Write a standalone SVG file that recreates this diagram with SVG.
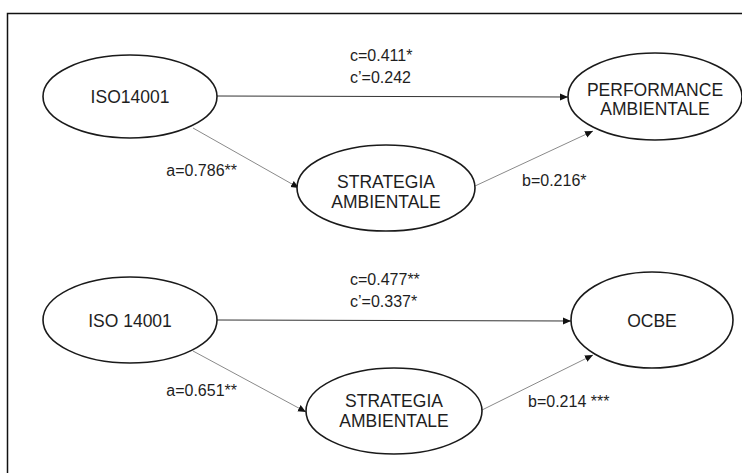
<svg xmlns="http://www.w3.org/2000/svg" width="742" height="473" viewBox="0 0 742 473">
  <style>
    .node ellipse { fill: #ffffff; stroke: #1a1a1a; stroke-width: 1.6; }
    .node text { font-family: "Liberation Sans", Arial, sans-serif; font-size: 17.5px; fill: #1e1e1e; text-anchor: middle; }
    .lbl { font-family: "Liberation Sans", Arial, sans-serif; font-size: 16px; fill: #1e1e1e; }
    .edge { fill: none; stroke-width: 1; }
    .h { stroke: #333333; }
    .d { stroke: #8a8a8a; }
  </style>
  <defs>
    <marker id="arrow" viewBox="0 0 8 8" refX="8" refY="4" markerWidth="8" markerHeight="8" markerUnits="userSpaceOnUse" orient="auto">
      <path d="M0,0.5 L8,4 L0,7.5 z" fill="#111"/>
    </marker>
  </defs>

  <rect width="742" height="473" fill="#ffffff"/>
  <!-- outer frame, open to the right and bottom -->
  <rect x="7.5" y="13.5" width="800" height="520" fill="none" stroke="#111" stroke-width="1.5"/>

  <g id="connectors">
    <!-- upper model -->
    <line class="edge h" x1="217" y1="96" x2="568" y2="97" marker-end="url(#arrow)"/>
    <line class="edge d" x1="193" y1="128" x2="299" y2="188" marker-end="url(#arrow)"/>
    <line class="edge d" x1="475" y1="186" x2="593" y2="131" marker-end="url(#arrow)"/>
    <!-- lower model -->
    <line class="edge h" x1="217" y1="320" x2="571" y2="321" marker-end="url(#arrow)"/>
    <line class="edge d" x1="193" y1="351" x2="306" y2="412" marker-end="url(#arrow)"/>
    <line class="edge d" x1="482" y1="410" x2="593" y2="355" marker-end="url(#arrow)"/>
  </g>

  <g id="labels">
    <text class="lbl" x="350" y="61">c=0.411*</text>
    <text class="lbl" x="350" y="83">c’=0.242</text>
    <text class="lbl" x="237" y="176" text-anchor="end">a=0.786**</text>
    <text class="lbl" x="522" y="186">b=0.216*</text>
    <text class="lbl" x="350" y="285">c=0.477**</text>
    <text class="lbl" x="350" y="307">c’=0.337*</text>
    <text class="lbl" x="237" y="396" text-anchor="end">a=0.651**</text>
    <text class="lbl" x="528" y="407">b=0.214 ***</text>
  </g>

  <g id="iso14001" class="node">
    <ellipse cx="130" cy="96.5" rx="87" ry="41.5"/>
    <text x="130" y="103">ISO14001</text>
  </g>
  <g id="performance-ambientale" class="node">
    <ellipse cx="655" cy="96.5" rx="87" ry="43.5"/>
    <text x="655" y="96">PERFORMANCE</text>
    <text x="655" y="115">AMBIENTALE</text>
  </g>
  <g id="strategia-ambientale-1" class="node">
    <ellipse cx="386" cy="188" rx="89" ry="43"/>
    <text x="386" y="188">STRATEGIA</text>
    <text x="386" y="208">AMBIENTALE</text>
  </g>
  <g id="iso-14001" class="node">
    <ellipse cx="130" cy="320" rx="87" ry="43"/>
    <text x="130" y="327">ISO 14001</text>
  </g>
  <g id="ocbe" class="node">
    <ellipse cx="652" cy="320" rx="81" ry="48"/>
    <text x="652" y="327">OCBE</text>
  </g>
  <g id="strategia-ambientale-2" class="node">
    <ellipse cx="394" cy="411" rx="88" ry="43"/>
    <text x="394" y="407">STRATEGIA</text>
    <text x="394" y="427">AMBIENTALE</text>
  </g>
</svg>
